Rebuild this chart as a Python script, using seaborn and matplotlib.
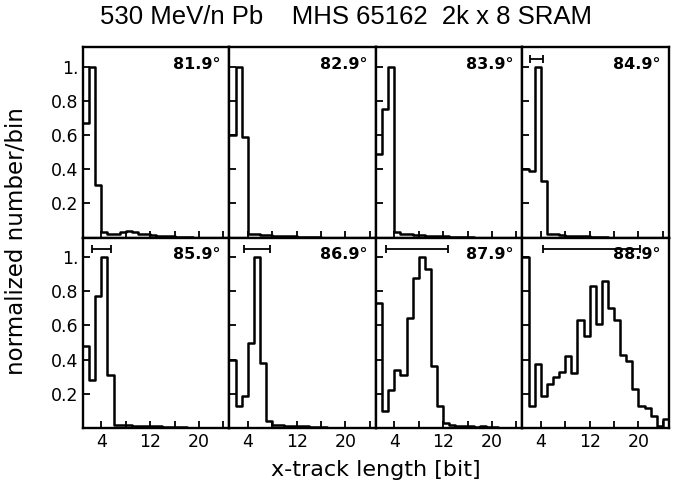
import numpy as np
import pandas as pd
import matplotlib
matplotlib.use("Agg")
import matplotlib.pyplot as plt
import seaborn as sns

# bins are 1 bit wide, edges 1..25
bit_centers = np.arange(1, 25) + 0.5

angles = ["81.9°", "82.9°", "83.9°", "84.9°", "85.9°", "86.9°", "87.9°", "88.9°"]

h_819 = [0.67, 1.00, 0.31, 0.03, 0.02, 0.02, 0.03, 0.04, 0.03, 0.02, 0.02, 0.015,
         0.01, 0.01, 0.01, 0.005, 0.005, 0.005, 0, 0, 0, 0, 0, 0]
h_829 = [0.60, 1.00, 0.59, 0.02, 0.02, 0.015, 0.015, 0.01, 0.01, 0.01, 0.01, 0.005,
         0.005, 0.005, 0.005, 0, 0, 0, 0, 0, 0, 0, 0, 0]
h_839 = [0.49, 0.75, 1.00, 0.03, 0.02, 0.02, 0.015, 0.015, 0.01, 0.01, 0.01, 0.01,
         0.005, 0.005, 0.005, 0.005, 0, 0, 0, 0, 0, 0, 0, 0]
h_849 = [0.40, 0.39, 1.00, 0.33, 0.02, 0.02, 0.015, 0.01, 0.01, 0.01, 0.01, 0.005,
         0.005, 0.005, 0, 0, 0, 0, 0, 0, 0, 0, 0, 0]
h_859 = [0.48, 0.28, 0.77, 1.00, 0.31, 0.02, 0.015, 0.015, 0.01, 0.01, 0.01, 0.01,
         0.01, 0.005, 0.005, 0.005, 0.005, 0, 0, 0, 0, 0, 0, 0]
h_869 = [0.40, 0.13, 0.19, 0.50, 1.00, 0.38, 0.04, 0.02, 0.015, 0.01, 0.01, 0.01,
         0.01, 0.005, 0.005, 0.005, 0, 0, 0, 0, 0, 0, 0, 0]
h_879 = [0.73, 0.10, 0.22, 0.34, 0.31, 0.645, 0.88, 1.00, 0.93, 0.365, 0.13, 0.03,
         0.015, 0.01, 0.01, 0.01, 0.005, 0.01, 0.005, 0.005, 0, 0, 0, 0]
h_889 = [1.00, 0.13, 0.375, 0.19, 0.26, 0.30, 0.33, 0.42, 0.32, 0.63, 0.54, 0.83,
         0.61, 0.86, 0.70, 0.63, 0.43, 0.39, 0.23, 0.13, 0.12, 0.07, 0.01, 0.05]

hists = [h_819, h_829, h_839, h_849, h_859, h_869, h_879, h_889]

# horizontal range bars at the top of some panels (low, high) in bits
range_bars = [None, None, None, (2.2, 4.4), (2.5, 5.6), (3.45, 7.7), (2.6, 12.75), (4.4, 20.3)]
range_bar_y = 1.045

sns.set_style("ticks")
plt.rcParams["font.family"] = ["DejaVu Sans"]
plt.rcParams.update({"text.color": "black", "axes.labelcolor": "black",
                     "xtick.color": "black", "ytick.color": "black"})

fig, axes = plt.subplots(2, 4, figsize=(6.78, 4.82), dpi=100, sharex=True, sharey=True)
fig.subplots_adjust(left=0.1224, right=0.9867, top=0.9025, bottom=0.112, wspace=0, hspace=0)

for i, ax in enumerate(axes.flat):
    df = pd.DataFrame({"bits": bit_centers, "norm": hists[i]})
    sns.histplot(data=df, x="bits", weights="norm", binwidth=1, binrange=(1, 25),
                 element="step", fill=False, color="black", linewidth=1.8, ax=ax)
    if range_bars[i] is not None:
        lo, hi = range_bars[i]
        ax.errorbar((lo + hi) / 2, range_bar_y, xerr=(hi - lo) / 2, fmt="none",
                    ecolor="black", elinewidth=1.3, capsize=3, capthick=1.3)
    ax.text(0.94, 0.95, angles[i], transform=ax.transAxes, ha="right", va="top",
            fontsize=11.5, fontweight="bold", color="black")
    ax.set_xlim(1, 25)
    ax.set_ylim(0, 1.115)
    ax.set_xticks([4, 8, 12, 16, 20, 24])
    ax.set_xticklabels(["4", "", "12", "", "20", ""])
    ax.set_yticks([0.2, 0.4, 0.6, 0.8, 1.0])
    ax.set_yticklabels(["0.2", "0.4", "0.6", "0.8", "1."])
    ax.tick_params(direction="in", length=5, width=1.3, labelsize=12.5)
    ax.set_xlabel("")
    ax.set_ylabel("")
    for sp in ax.spines.values():
        sp.set_visible(True)
        sp.set_linewidth(1.7)
        sp.set_color("black")

fig.suptitle("530 MeV/n Pb    MHS 65162  2k x 8 SRAM", x=0.51, y=0.99,
             fontsize=18.5, family="Liberation Sans")
fig.supxlabel("x-track length [bit]", x=0.555, y=0.005, fontsize=16)
fig.supylabel("normalized number/bin", x=0.008, y=0.5, fontsize=16.5)

fig.savefig("out.png", dpi=100)
